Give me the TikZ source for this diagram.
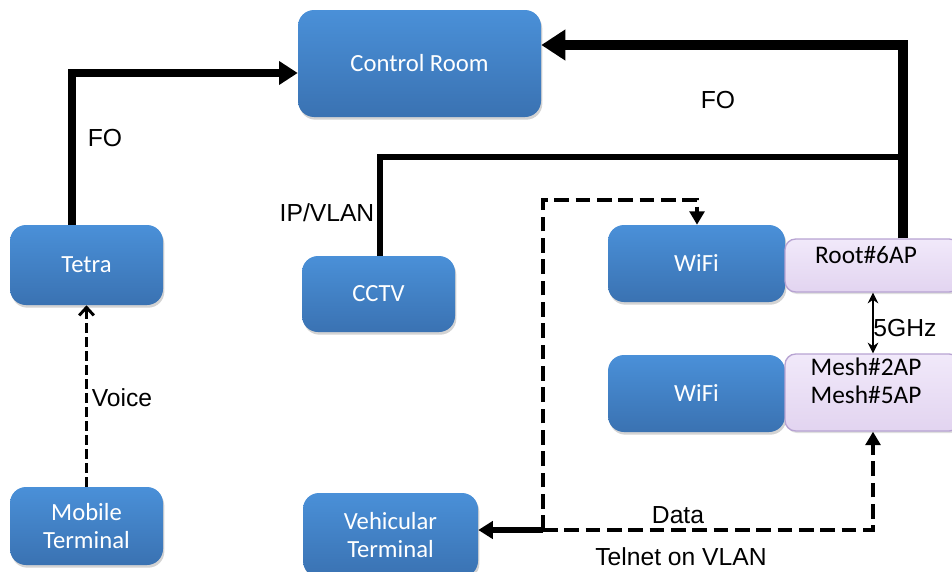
\documentclass[tikz,border=0pt]{standalone}
\usepackage{fontspec}
\setmainfont{Liberation Sans}
\newfontfamily\boxfont{Carlito}
\usetikzlibrary{arrows.meta,shadows}
\definecolor{bluetop}{HTML}{4A90D8}
\definecolor{bluebot}{HTML}{3A72B2}
\definecolor{lavtop}{HTML}{F1E9FA}
\definecolor{lavbot}{HTML}{E2D4F0}
\definecolor{lavedge}{HTML}{B7A3D2}
\tikzset{
  bluebox/.style={rounded corners=12, top color=bluetop, bottom color=bluebot, draw=none,
    drop shadow={opacity=0.35, shadow xshift=1pt, shadow yshift=-2pt},
    text=white, font=\boxfont\fontsize{18.5}{22}\selectfont, align=center, inner sep=0pt},
  lavbox/.style={rounded corners=8, top color=lavtop, bottom color=lavbot, draw=lavedge, line width=1pt,
    drop shadow={opacity=0.25, shadow xshift=1pt, shadow yshift=-1.5pt}},
  lavtext/.style={font=\boxfont\fontsize{19}{22}\selectfont, text=black},
  lbl/.style={font=\fontsize{18.5}{22}\selectfont, text=black},
  foline/.style={line width=6.5pt},
  ipline/.style={line width=4pt},
  dline/.style={line width=3.6pt, dash pattern=on 11pt off 5pt},
}
\begin{document}
\begin{tikzpicture}[x=0.75pt,y=-0.75pt]
\useasboundingbox (0,0) rectangle (952,571);
\clip (0,0) rectangle (952,571);
% boxes
\node[bluebox, minimum width=243*0.75pt, minimum height=107*0.75pt] (cr) at (419.5,63.5) {Control Room};
\node[bluebox, minimum width=153*0.75pt, minimum height=80*0.75pt] (tetra) at (86.5,265) {Tetra};
\node[bluebox, minimum width=153*0.75pt, minimum height=78*0.75pt] (mob) at (86.5,526) {Mobile\\[-1pt]Terminal};
\node[bluebox, minimum width=153*0.75pt, minimum height=76*0.75pt] (cctv) at (378.5,294) {CCTV};
\node[bluebox, minimum width=175*0.75pt, minimum height=84*0.75pt] (veh) at (390.5,535) {Vehicular\\[-1pt]Terminal};
\node[bluebox, minimum width=177*0.75pt, minimum height=77*0.75pt] (wifi1) at (696.5,263.5) {WiFi};
\node[bluebox, minimum width=177*0.75pt, minimum height=77*0.75pt] (wifi2) at (696.5,393.5) {WiFi};
\node[lavbox, minimum width=175*0.75pt, minimum height=53*0.75pt] (root) at (872.5,265.5) {};
\node[lavbox, minimum width=175*0.75pt, minimum height=77*0.75pt] (mesh) at (872.5,392.5) {};
\node[lavtext] (roott) at (866,255) {Root\#6AP};
\node[lavtext] (mesht1) at (866,367) {Mesh\#2AP};
\node[lavtext] (mesht2) at (866,395) {Mesh\#5AP};
% coordinates
\coordinate (tu) at (72,73);
\coordinate (ru) at (903,45);
\coordinate (rj) at (903,157);
\coordinate (cu) at (380,157);
\coordinate (j) at (543,530);
\coordinate (ja) at (873,530);
\coordinate (jt) at (543,200);
\coordinate (wt) at (697,200);
% FO lines
\draw[foline, -{Triangle[length=14pt,width=17pt]}] (tetra.north -| tu) -- (tu) -- (tu -| cr.west);
\draw[line width=7.5pt, -{Triangle[length=18pt,width=22pt]}] (root.north -| ru) -- (ru) -- (ru -| cr.east);
\draw[ipline] (cctv.north -| cu) -- (cu) -- (rj);
% 5GHz
\draw[line width=1.6pt, {Stealth[length=8pt,width=8pt]}-{Stealth[length=8pt,width=8pt]}] (root.south -| ja) -- (mesh.north -| ja);
% dashed data
\draw[ipline, -{Triangle[length=11pt,width=13pt]}] (j) -- (j -| veh.east);
\draw[dline, -{Triangle[length=10pt,width=11pt]}] (j) -- (ja) -- (mesh.south -| ja);
\draw[dline, -{Triangle[length=10pt,width=11pt]}] (j) -- (jt) -- (wt) -- (wifi1.north -| wt);
% voice
\draw[line width=2.6pt, dash pattern=on 7pt off 3.5pt, -{Straight Barb[length=6pt,width=11pt,line width=2.2pt]}] (mob.north) -- (tetra.south);
% labels
\node[lbl] (l1) at (105,138) {FO};
\node[lbl] (l2) at (718,100) {FO};
\node[lbl] (l3) at (327,213) {IP/VLAN};
\node[lbl] (l4) at (122,398) {Voice};
\node[lbl] (l5) at (905,328) {5GHz};
\node[lbl] (l6) at (678,515) {Data};
\node[lbl] (l7) at (681,557) {Telnet on VLAN};
\end{tikzpicture}
\end{document}
